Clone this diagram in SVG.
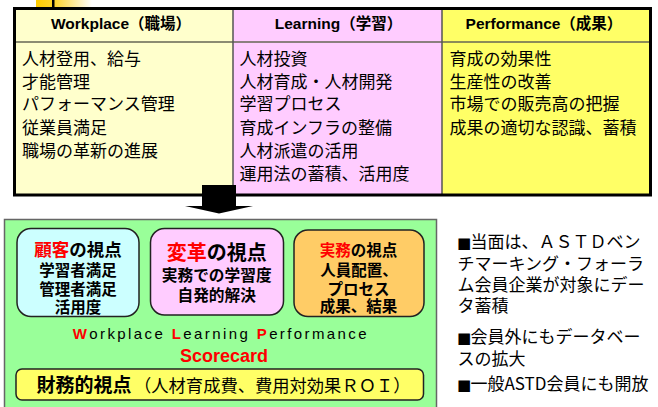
<svg xmlns="http://www.w3.org/2000/svg" width="658" height="407" viewBox="0 0 658 407">
<defs>
<linearGradient id="deco" x1="0" y1="0" x2="1" y2="0">
<stop offset="0" stop-color="#FFCC00"/>
<stop offset="0.35" stop-color="#FFD633"/>
<stop offset="1" stop-color="#FFFFFF"/>
</linearGradient>
<style>
.hd{font-family:"Liberation Sans","Noto Sans CJK JP",sans-serif;font-weight:700;font-size:15.5px;fill:#000;text-anchor:middle}
.bd{font-family:"Noto Sans CJK JP",sans-serif;font-size:17px;fill:#000}
.bx{font-family:"Noto Sans CJK JP",sans-serif;font-weight:700;fill:#000;text-anchor:middle}
.red{fill:#FF0000}
.pbox{stroke:#222;stroke-width:1.5}
.rt{font-family:"Noto Sans CJK JP",sans-serif;font-size:17px;fill:#000}
.sq{font-family:"DejaVu Sans",sans-serif;font-size:15px}
</style>
</defs>
<rect width="658" height="407" fill="#FFFFFF"/>
<!-- decoration -->
<rect x="36" y="0" width="56" height="8" fill="url(#deco)"/>
<rect x="52" y="0" width="2.5" height="8" fill="#000"/>

<g id="table">
<rect x="14.5" y="8.5" width="218.5" height="186.5" fill="#FFFFCC"/>
<rect x="233" y="8.5" width="209" height="186.5" fill="#FFCCFF"/>
<rect x="442" y="8.5" width="208.5" height="186.5" fill="#FFFF66"/>
<line x1="14.5" y1="42" x2="650.5" y2="42" stroke="#666655" stroke-width="1.5"/>
<line x1="233" y1="8.5" x2="233" y2="195" stroke="#555" stroke-width="1.5"/>
<line x1="442" y1="8.5" x2="442" y2="195" stroke="#555" stroke-width="1.5"/>
<rect x="14.5" y="8.5" width="636" height="186.5" fill="none" stroke="#000" stroke-width="3"/>
</g>

<g id="col-workplace">
<text class="hd" x="121" y="28.5">Workplace（職場）</text>
<text class="bd" x="22" y="65">人材登用、給与</text>
<text class="bd" x="22" y="87.5">才能管理</text>
<text class="bd" x="22" y="110">パフォーマンス管理</text>
<text class="bd" x="22" y="133.5">従業員満足</text>
<text class="bd" x="22" y="156.5">職場の革新の進展</text>
</g>

<g id="col-learning">
<text class="hd" x="338.5" y="28.5">Learning（学習）</text>
<text class="bd" x="239.5" y="65">人材投資</text>
<text class="bd" x="239.5" y="87.5">人材育成・人材開発</text>
<text class="bd" x="239.5" y="110">学習プロセス</text>
<text class="bd" x="239.5" y="133.5">育成インフラの整備</text>
<text class="bd" x="239.5" y="156.5">人材派遣の活用</text>
<text class="bd" x="239.5" y="179.5">運用法の蓄積、活用度</text>
</g>

<g id="col-performance">
<text class="hd" x="544" y="28.5">Performance（成果）</text>
<text class="bd" x="449.5" y="65">育成の効果性</text>
<text class="bd" x="449.5" y="87.5">生産性の改善</text>
<text class="bd" x="449.5" y="110">市場での販売高の把握</text>
<text class="bd" x="449.5" y="133.5">成果の適切な認識、蓄積</text>
</g>

<g id="connectors">
<polygon points="202,185 236,185 236,206 253,206 219,213.5 185,206 202,206" fill="#000"/>
</g>

<g id="scorecard">
<rect x="4.5" y="219.5" width="432" height="200" fill="#99FF99" stroke="#666" stroke-width="1.5"/>
<text x="72.7" y="339" font-family="Liberation Sans, sans-serif" font-size="15" letter-spacing="2.4" fill="#000"><tspan class="red" font-weight="700">W</tspan>orkplace <tspan class="red" font-weight="700">L</tspan>earning <tspan class="red" font-weight="700">P</tspan>erformance</text>
<text x="180" y="361.5" font-family="Liberation Sans, sans-serif" font-size="18" font-weight="700" fill="#FF0000">Scorecard</text>
</g>

<g id="customer">
<rect class="pbox" x="17" y="228.5" width="122" height="88" rx="14" fill="#CCFFFF"/>
<text class="bx" x="78" y="255.5" font-size="17.5"><tspan class="red">顧客</tspan>の視点</text>
<text class="bx" x="78" y="276" font-size="15.5">学習者満足</text>
<text class="bx" x="78" y="294.5" font-size="15.5">管理者満足</text>
<text class="bx" x="78" y="313" font-size="15.5">活用度</text>
</g>

<g id="change">
<rect class="pbox" x="150.5" y="228.5" width="133" height="86.5" rx="14" fill="#FFCCFF"/>
<text class="bx" x="216.7" y="259.5" font-size="20"><tspan class="red">変革</tspan>の視点</text>
<text class="bx" x="216.7" y="280.5" font-size="15.7">実務での学習度</text>
<text class="bx" x="216.7" y="301" font-size="15.7">自発的解決</text>
</g>

<g id="practice">
<rect class="pbox" x="294" y="230" width="130" height="86.5" rx="14" fill="#FFCC66"/>
<text class="bx" x="358.5" y="256" font-size="15.5"><tspan class="red">実務</tspan>の視点</text>
<text class="bx" x="359" y="275.5" font-size="15.5">人員配置、</text>
<text class="bx" x="358.5" y="294.5" font-size="15.5">プロセス</text>
<text class="bx" x="358.5" y="312" font-size="15.5">成果、結果</text>
</g>

<g id="finance">
<rect class="pbox" x="16" y="369" width="407.5" height="31" rx="6" fill="#FFFF66"/>
<text x="36.5" y="392" font-family="Noto Sans CJK JP, sans-serif" font-size="19" font-weight="700" fill="#000">財務的視点</text>
<text x="134" y="392" font-family="Noto Sans CJK JP, sans-serif" font-size="17.3" fill="#000">（人材育成費、費用対効果ＲＯＩ）</text>
</g>

<g id="notes">
<text class="rt" y="248"><tspan class="sq" x="457">■</tspan><tspan x="470.5">当面は、ＡＳＴＤベン</tspan></text>
<text class="rt" x="457.5" y="269.5">チマーキング・フォーラ</text>
<text class="rt" x="457.5" y="291">ム会員企業が対象にデー</text>
<text class="rt" x="457.5" y="312">タ蓄積</text>
<text class="rt" y="343"><tspan class="sq" x="457">■</tspan><tspan x="470.5">会員外にもデータベー</tspan></text>
<text class="rt" x="457.5" y="365">スの拡大</text>
<text class="rt" y="390"><tspan class="sq" x="457">■</tspan><tspan x="470.5">一般ASTD会員にも開放</tspan></text>
</g>
</svg>
